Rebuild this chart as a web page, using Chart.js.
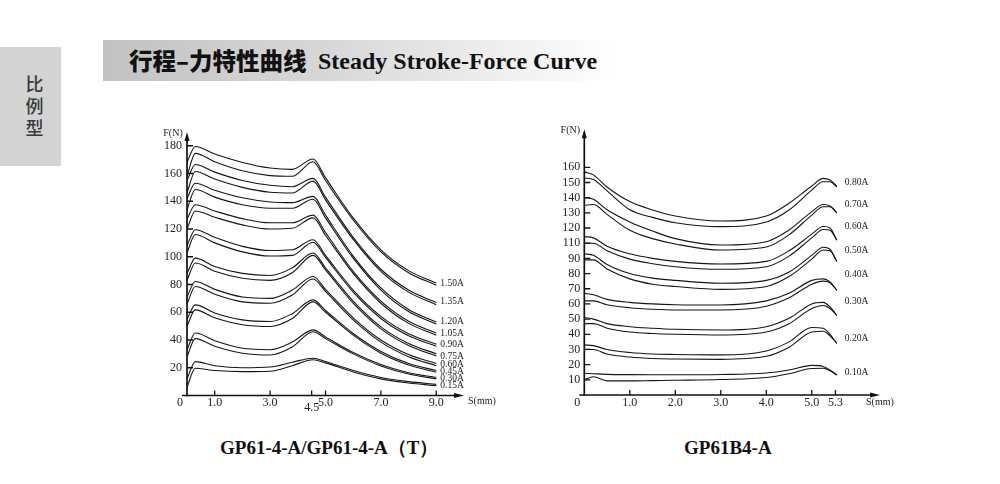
<!DOCTYPE html>
<html>
<head>
<meta charset="utf-8">
<script src="https://cdn.jsdelivr.net/npm/chart.js@4.4.1/dist/chart.umd.min.js"></script>
<style>
  body { margin: 0; width: 1000px; height: 484px; background: #fff; position: relative; overflow: hidden; }
  .tab { position: absolute; left: 0; top: 47px; width: 61px; height: 119px; background: #d3d3d3; }
  .tab span { display: block; text-align: center; font: 500 18px "Noto Sans CJK SC"; color: #3a3a3a; line-height: 22px; padding-left: 8px; }
  .bar { position: absolute; left: 103px; top: 40px; width: 512px; height: 41px;
         background: linear-gradient(to right, #c2c2c2 0%, #d8d8d8 45%, #f4f4f4 85%, #ffffff 100%); }
  .zh { position: absolute; left: 129px; top: 45px; font: 900 23.5px "Noto Sans CJK SC"; color: #111; line-height: 30px; }
  .en { position: absolute; left: 318px; top: 46px; font: 700 24px "Liberation Serif"; color: #111; line-height: 30px; }
  .cap { position: absolute; top: 436px; font: 700 19px "Liberation Serif"; color: #111; line-height: 24px; }
  .box { position: absolute; }
</style>
</head>
<body>
<div class="tab" style="padding-top:25px;height:94px"><span>比</span><span>例</span><span>型</span></div>
<div class="bar"></div>
<div class="zh">行程–力特性曲线</div>
<div class="en">Steady Stroke-Force Curve</div>

<div class="box" style="left:140px;top:100px;width:380px;height:320px"><canvas id="leftChart" width="380" height="320"></canvas></div>
<div class="box" style="left:540px;top:100px;width:380px;height:320px"><canvas id="rightChart" width="380" height="320"></canvas></div>

<div class="cap" style="left:220px">GP61-4-A/GP61-4-A（T）</div>
<div class="cap" style="left:684px">GP61B4-A</div>

<script>
// GP61-4-A: stroke (mm) and force (N), two traces per current
const leftS = [0, 0.3, 1, 2, 3, 3.8, 4.55, 5, 6, 7, 8, 9];
const leftCurrents = ["1.50A", "1.35A", "1.20A", "1.05A", "0.90A", "0.75A", "0.60A", "0.45A", "0.30A", "0.15A"];
const l150a = [168, 179.5, 174, 168, 164, 163, 170.5, 157, 128, 105, 90, 81];
const l150b = [158, 174.5, 168.5, 162, 158.5, 158, 168.5, 155, 126.5, 103.5, 88.5, 79.5];
const l135a = [155, 166.5, 161, 155, 151.5, 150.5, 156.5, 143, 114, 91, 76, 67];
const l135b = [146, 161.5, 156, 150, 146.5, 146, 154.5, 141, 112.5, 89.5, 74.5, 65.5];
const l120a = [142, 153, 148, 142.5, 139.5, 139, 143.5, 130, 100.5, 77.5, 62, 53];
const l120b = [134, 148.5, 143, 137.5, 135, 135, 141.5, 128, 99, 76, 60.5, 51.5];
const l105a = [127, 137.5, 133, 127.5, 124.5, 124.5, 130, 117.5, 89.5, 68, 53.5, 45];
const l105b = [120, 133, 128.5, 123, 120, 120.5, 128, 115.5, 88, 66.5, 52, 43.5];
const l090a = [108, 119.5, 114, 107.5, 104.5, 105, 112.3, 101, 76, 57, 44.5, 37];
const l090b = [103, 116, 110, 103.5, 100.5, 101, 110.5, 99.5, 74.5, 55.5, 43, 35.5];
const l075a = [88, 99, 93, 88, 86.5, 92, 102.7, 92, 68, 49.5, 37.5, 30];
const l075b = [83, 95.5, 89.5, 84.5, 83, 88.5, 101, 90.5, 66.5, 48, 36, 28.5];
const l060a = [71, 82.2, 76.5, 71, 70, 76, 85.8, 76.5, 56, 40, 29.5, 23];
const l060b = [66, 78.6, 73, 67.5, 66.5, 72.5, 84, 75, 54.5, 38.5, 28, 21.5];
const l045a = [55, 65.3, 59.5, 54.5, 53.3, 59, 68.9, 61.3, 44.7, 31.7, 23, 18];
const l045b = [50, 61.7, 56, 51, 49.7, 55.5, 67.5, 60, 43.5, 30.5, 22, 16.8];
const l030a = [33, 45, 39.5, 34, 33, 38.5, 47.3, 42.2, 31, 22.3, 16.4, 13];
const l030b = [28, 41, 35.5, 30.5, 29.2, 35, 46, 41, 30, 21.3, 15.5, 12];
const l015a = [12, 24.4, 21.5, 20, 20.5, 24, 26.9, 24.5, 18, 13, 10, 8];
const l015b = [6, 19.6, 18, 17.2, 17.5, 21.5, 25.8, 23.5, 17, 12, 9, 7];
const leftLabelAt = [81, 67.5, 53, 45, 36.5, 28, 22, 17, 12, 7];
const leftXTicks = [1, 3, 4.5, 5, 7, 9];
const leftXLabels = ["1.0", "3.0", "4.5", "5.0", "7.0", "9.0"];
const leftYTicks = [20, 40, 60, 80, 100, 120, 140, 160, 180];
const leftYLabels = ["20", "40", "60", "80", "100", "120", "140", "160", "180"];

// GP61B4-A (values in the printed axis positions)
const rightS = [0, 0.2, 0.5, 1, 1.5, 2, 3, 4, 4.5, 5, 5.25, 5.4, 5.55];
const rightCurrents = ["0.80A", "0.70A", "0.60A", "0.50A", "0.40A", "0.30A", "0.20A", "0.10A"];
const r080a = [147, 145, 137, 127.4, 121.9, 117.9, 114.6, 117.9, 126.3, 137.7, 142.7, 141.6, 137.7];
const r080b = [143, 142, 134.5, 122, 117, 113.5, 110.9, 114, 121.9, 135, 140.5, 140.5, 137];
const r070a = [130, 129, 122, 114, 108, 103, 98.8, 101, 108.7, 120.8, 125.5, 124.5, 120];
const r070b = [125, 125.5, 119, 108.5, 103, 99.5, 95.5, 97.5, 105.5, 118.5, 124, 124, 120];
const r060a = [104.3, 103.5, 98, 93, 90, 88, 86.3, 88, 95, 106, 111, 110, 102];
const r060b = [100, 100, 95, 89.5, 86.5, 84.5, 82.8, 84.5, 91.5, 103.5, 109, 108.5, 102];
const r050a = [93, 92, 86, 80, 77, 75.5, 73.6, 75.5, 81, 92, 97.3, 96, 88];
const r050b = [89, 89, 83, 76.5, 73, 71.5, 69.6, 71.5, 78, 89.5, 95.5, 95, 88];
const r040a = [67, 66, 63, 61, 60, 59.5, 59.3, 62, 67, 75.5, 76.5, 74.5, 69];
const r040b = [62, 62, 59.5, 57.5, 56.5, 56, 56, 58.5, 64, 73, 75, 74, 69];
const r030a = [51, 50, 47, 45, 44, 43.3, 42.8, 45, 50.5, 60, 61, 58, 52.5];
const r030b = [47, 47, 44, 41.5, 40.5, 40, 39.5, 41.5, 47, 57, 59, 57, 52.5];
const r020a = [33, 32.5, 30, 28, 27, 26.7, 26.4, 29, 35, 44.5, 44, 40, 34];
const r020b = [30, 30, 27, 25, 24, 23.7, 23.5, 25.5, 31.5, 41.5, 42, 39, 34];
const r010a = [14.3, 14, 13.6, 13.4, 13.3, 13.3, 13.5, 14.5, 16.5, 19.5, 18.8, 16.5, 13.2];
const r010b = [10, 12, 9.3, 9.3, 9.5, 9.7, 10.2, 11.5, 14, 17.5, 17.6, 16, 13.2];
const rightLabelAt = [140.3, 125.8, 110.7, 95.5, 79.7, 61.3, 37.5, 14.5];
const rightXTicks = [1, 2, 3, 4, 5, 5.52];
const rightXLabels = ["1.0", "2.0", "3.0", "4.0", "5.0", "5.3"];
const rightYTicks = [10, 20, 30, 40, 50, 60, 70, 80, 90, 100, 110, 120, 130, 140, 150];
const rightYLabels = ["10", "20", "30", "40", "50", "60", "70", "80", "90", "110", "120", "130", "140", "150", "160"];

function traces(xs, list) {
  return list.map((vals) => ({
    data: vals.map((v, i) => ({ x: xs[i], y: v })),
    borderColor: "#151515",
    borderWidth: 1.1,
    pointRadius: 0,
    fill: false,
    cubicInterpolationMode: "monotone",
  }));
}

function axesPlugin(o) {
  return {
    id: "handAxes",
    afterDraw(chart) {
      const ctx = chart.ctx;
      const xs = chart.scales.x, ys = chart.scales.y;
      const x0 = xs.getPixelForValue(0), y0 = ys.getPixelForValue(0);
      const xEnd = xs.right, yEnd = ys.top;
      ctx.save();
      ctx.strokeStyle = "#111";
      ctx.fillStyle = "#111";
      ctx.lineWidth = 1.7;
      ctx.beginPath();
      ctx.moveTo(x0, y0 + 1);
      ctx.lineTo(x0, yEnd + 6);
      ctx.moveTo(x0 - 5, y0);
      ctx.lineTo(xEnd - 6, y0);
      ctx.stroke();
      ctx.beginPath();
      ctx.moveTo(x0, yEnd);
      ctx.lineTo(x0 - 2.5, yEnd + 9);
      ctx.lineTo(x0 + 2.5, yEnd + 9);
      ctx.closePath();
      ctx.fill();
      ctx.beginPath();
      ctx.moveTo(xEnd, y0);
      ctx.lineTo(xEnd - 10, y0 - 2.5);
      ctx.lineTo(xEnd - 10, y0 + 2.5);
      ctx.closePath();
      ctx.fill();

      ctx.lineWidth = 1.3;
      ctx.beginPath();
      o.yTicks.forEach((v) => {
        const y = ys.getPixelForValue(v);
        ctx.moveTo(x0, y);
        ctx.lineTo(x0 + o.yTickLen, y);
      });
      o.xTicks.forEach((v) => {
        const x = xs.getPixelForValue(v);
        ctx.moveTo(x, y0);
        ctx.lineTo(x, y0 - 5);
      });
      ctx.stroke();

      ctx.fillStyle = "#222";
      ctx.font = '12px "Liberation Serif"';
      ctx.textBaseline = "middle";
      ctx.textAlign = "right";
      o.yTicks.forEach((v, i) => ctx.fillText(o.yLabels[i], x0 - o.yGap, ys.getPixelForValue(v)));
      ctx.textAlign = "center";
      o.xTicks.forEach((v, i) => {
        const drop = o.xLabels[i] === o.lowLabel ? 5 : 0;
        ctx.fillText(o.xLabels[i], xs.getPixelForValue(v), y0 + o.xGap + drop);
      });
      ctx.fillText("0", x0 - 7, y0 + o.xGap);

      ctx.font = '10px "Liberation Serif"';
      ctx.fillText("F(N)", x0 - 14, yEnd + 1);
      ctx.textAlign = "left";
      ctx.fillText("S(mm)", o.sX, y0 + o.xGap - 1);

      ctx.font = '9.5px "Liberation Serif"';
      o.curveLabels.forEach((t, i) => {
        ctx.fillText(t, xs.getPixelForValue(o.labelS) + o.labelDx, ys.getPixelForValue(o.labelAt[i]));
      });
      ctx.restore();
    },
  };
}

function build(id, xs, list, xMax, yMax, pad, axes) {
  new Chart(document.getElementById(id), {
    type: "line",
    data: { datasets: traces(xs, list) },
    options: {
      responsive: false,
      animation: false,
      layout: { padding: pad },
      plugins: { legend: { display: false }, tooltip: { enabled: false } },
      scales: {
        x: { type: "linear", min: 0, max: xMax, display: false },
        y: { type: "linear", min: 0, max: yMax, display: false },
      },
    },
    plugins: [axesPlugin(axes)],
  });
}

build("leftChart", leftS,
  [l150a, l150b, l135a, l135b, l120a, l120b, l105a, l105b, l090a, l090b,
   l075a, l075b, l060a, l060b, l045a, l045b, l030a, l030b, l015a, l015b],
  10, 190, { left: 47, right: 56, top: 31.9, bottom: 24.5 },
  { xTicks: leftXTicks, xLabels: leftXLabels, yTicks: leftYTicks, yLabels: leftYLabels,
    lowLabel: "4.5", yTickLen: 6, yGap: 5, xGap: 7, sX: 328,
    curveLabels: leftCurrents, labelAt: leftLabelAt, labelS: 9, labelDx: 4 });

build("rightChart", rightS,
  [r080a, r080b, r070a, r070b, r060a, r060b, r050a, r050b,
   r040a, r040b, r030a, r030b, r020a, r020b, r010a, r010b],
  6.5, 175, { left: 44.3, right: 39.95, top: 29.35, bottom: 25 },
  { xTicks: rightXTicks, xLabels: rightXLabels, yTicks: rightYTicks, yLabels: rightYLabels,
    lowLabel: null, yTickLen: 6, yGap: 4, xGap: 8, sX: 326,
    curveLabels: rightCurrents, labelAt: rightLabelAt, labelS: 5.55, labelDx: 8 });
</script>
</body>
</html>
